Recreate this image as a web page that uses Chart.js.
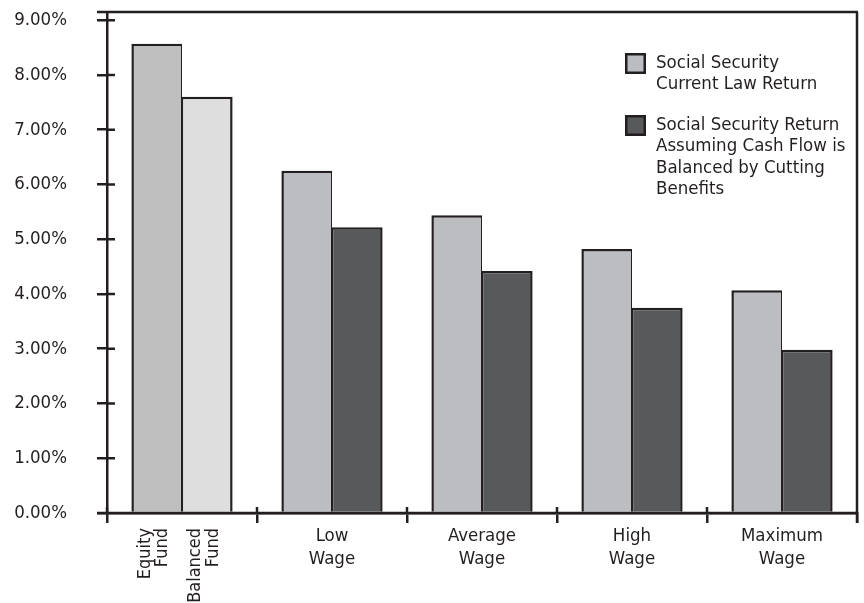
<!DOCTYPE html>
<html>
<head>
<meta charset="utf-8">
<title>Rates of Return</title>
<script src="https://cdn.jsdelivr.net/npm/chart.js@4/dist/chart.umd.min.js"></script>
<style>
  html, body { margin: 0; padding: 0; background: #ffffff; }
  #wrap { width: 864px; height: 603px; }
</style>
</head>
<body>
<div id="wrap"><canvas id="chart" width="864" height="603"></canvas></div>
<script>
// Private fund returns (first group, one bar each)
const fundNames = [['Equity', 'Fund'], ['Balanced', 'Fund']];
const fundReturns = [8.57, 7.60];

// Social Security returns by earnings level
const wageGroups = [['Low', 'Wage'], ['Average', 'Wage'], ['High', 'Wage'], ['Maximum', 'Wage']];
const currentLawReturns = [6.25, 5.44, 4.82, 4.07];
const cutBenefitReturns = [5.22, 4.42, 3.75, 2.98];

const seriesNames = [
  ['Social Security', 'Current Law Return'],
  ['Social Security Return', 'Assuming Cash Flow is', 'Balanced by Cutting', 'Benefits']
];

const yTicks = [0, 1, 2, 3, 4, 5, 6, 7, 8, 9];

const INK = '#231f20';
const LIGHT = '#bcbdc0';
const DARK = '#58595b';
const EQUITY = '#bebebe';
const BALANCED = '#dedede';
const FAMILY = '"DejaVu Sans Condensed", "Liberation Sans Narrow", "Liberation Sans", sans-serif';
const LINE_W = 2.5;

// Short tick marks that cross into the plot, plus the frame on top and right
const framePlugin = {
  id: 'frame',
  afterDatasetsDraw(chart) {
    const { ctx, chartArea: a, scales } = chart;
    ctx.save();
    ctx.strokeStyle = INK;
    ctx.lineWidth = LINE_W;
    ctx.beginPath();
    // bottom axis redrawn over bar bases
    ctx.moveTo(a.left - 10, a.bottom);
    ctx.lineTo(a.right + 1, a.bottom);
    // top frame, starting out where the tick marks start
    ctx.moveTo(a.left - 10, a.top);
    ctx.lineTo(a.right + 1, a.top);
    // right frame
    ctx.moveTo(a.right, a.top);
    ctx.lineTo(a.right, a.bottom + 10);
    // inward parts of the y ticks
    yTicks.forEach(v => {
      const y = scales.y.getPixelForValue(v);
      ctx.moveTo(a.left, y);
      ctx.lineTo(a.left + 8, y);
    });
    // inward parts of the category boundary ticks
    const n = scales.x.ticks.length;
    for (let i = 0; i <= n; i++) {
      const x = scales.x.left + i * (scales.x.width / n);
      ctx.moveTo(x, a.bottom);
      ctx.lineTo(x, a.bottom - 6);
    }
    ctx.stroke();
    ctx.restore();
  }
};

// Vertical labels under the two fund bars
const fundLabelPlugin = {
  id: 'fundLabels',
  afterDraw(chart) {
    const { ctx, chartArea: a } = chart;
    ctx.save();
    ctx.fillStyle = INK;
    ctx.font = '18px ' + FAMILY;
    ctx.textAlign = 'right';
    ctx.textBaseline = 'alphabetic';
    fundNames.forEach((lines, ds) => {
      const bar = chart.getDatasetMeta(ds).data[0];
      lines.forEach((line, i) => {
        ctx.save();
        ctx.translate(bar.x - 7 + i * 17.5, a.bottom + 15);
        ctx.rotate(-Math.PI / 2);
        ctx.fillText(line, 0, 0);
        ctx.restore();
      });
    });
    ctx.restore();
  }
};

// Legend drawn inside the plot, top right
const legendPlugin = {
  id: 'insideLegend',
  afterDraw(chart) {
    const { ctx, chartArea: a } = chart;
    const x0 = a.right - 232;
    const tops = [a.top + 41, a.top + 103];
    const fills = [LIGHT, DARK];
    ctx.save();
    ctx.font = '18.5px ' + FAMILY;
    ctx.textAlign = 'left';
    ctx.textBaseline = 'alphabetic';
    seriesNames.forEach((lines, i) => {
      const t = tops[i];
      ctx.fillStyle = fills[i];
      ctx.fillRect(x0, t, 21, 21);
      ctx.strokeStyle = INK;
      ctx.lineWidth = 2.5;
      ctx.strokeRect(x0 + 1.25, t + 1.25, 18.5, 18.5);
      ctx.fillStyle = INK;
      lines.forEach((line, j) => {
        ctx.fillText(line, x0 + 31, t + 14.5 + j * 21.5);
      });
    });
    ctx.restore();
  }
};

const categoryLabels = [[''], ...wageGroups];

new Chart(document.getElementById('chart'), {
  type: 'bar',
  data: {
    labels: categoryLabels,
    datasets: [
      {
        label: seriesNames[0].join(' '),
        data: [fundReturns[0], ...currentLawReturns],
        backgroundColor: [EQUITY, LIGHT, LIGHT, LIGHT, LIGHT],
        borderColor: INK,
        borderWidth: { top: 2.5, left: 2.5, right: 1.25, bottom: 0 },
        borderSkipped: 'start',
        categoryPercentage: 0.675,
        barPercentage: 1.0
      },
      {
        label: seriesNames[1].join(' '),
        data: [fundReturns[1], ...cutBenefitReturns],
        backgroundColor: [BALANCED, DARK, DARK, DARK, DARK],
        borderColor: INK,
        borderWidth: { top: 2.5, left: 1.25, right: 2.5, bottom: 0 },
        borderSkipped: 'start',
        categoryPercentage: 0.675,
        barPercentage: 1.0
      }
    ]
  },
  options: {
    responsive: false,
    devicePixelRatio: 1,
    animation: false,
    layout: { padding: { top: 12, right: 7, left: 0, bottom: 0 } },
    plugins: {
      legend: { display: false },
      tooltip: { enabled: false }
    },
    scales: {
      x: {
        grid: { offset: true, drawOnChartArea: false, tickLength: 10, color: INK, lineWidth: LINE_W },
        border: { color: INK, width: LINE_W },
        ticks: {
          color: INK,
          font: { family: FAMILY, size: 18.5, lineHeight: 1.28 },
          padding: 1,
          maxRotation: 0,
          autoSkip: false
        },
        afterFit(scale) {
          scale.height = 90;
          scale.paddingLeft = 0;
          scale.paddingRight = 0;
        }
      },
      y: {
        min: 0,
        max: 9.15,
        afterBuildTicks(scale) { scale.ticks = yTicks.map(v => ({ value: v })); },
        grid: { drawOnChartArea: false, tickLength: 10, color: INK, lineWidth: LINE_W },
        border: { color: INK, width: LINE_W },
        ticks: {
          color: INK,
          font: { family: FAMILY, size: 18.5 },
          padding: 30,
          callback: v => v.toFixed(2) + '%'
        },
        afterFit(scale) {
          scale.width = 107;
          scale.paddingTop = 0;
          scale.paddingBottom = 0;
        }
      }
    }
  },
  plugins: [framePlugin, fundLabelPlugin, legendPlugin]
});
</script>
</body>
</html>
